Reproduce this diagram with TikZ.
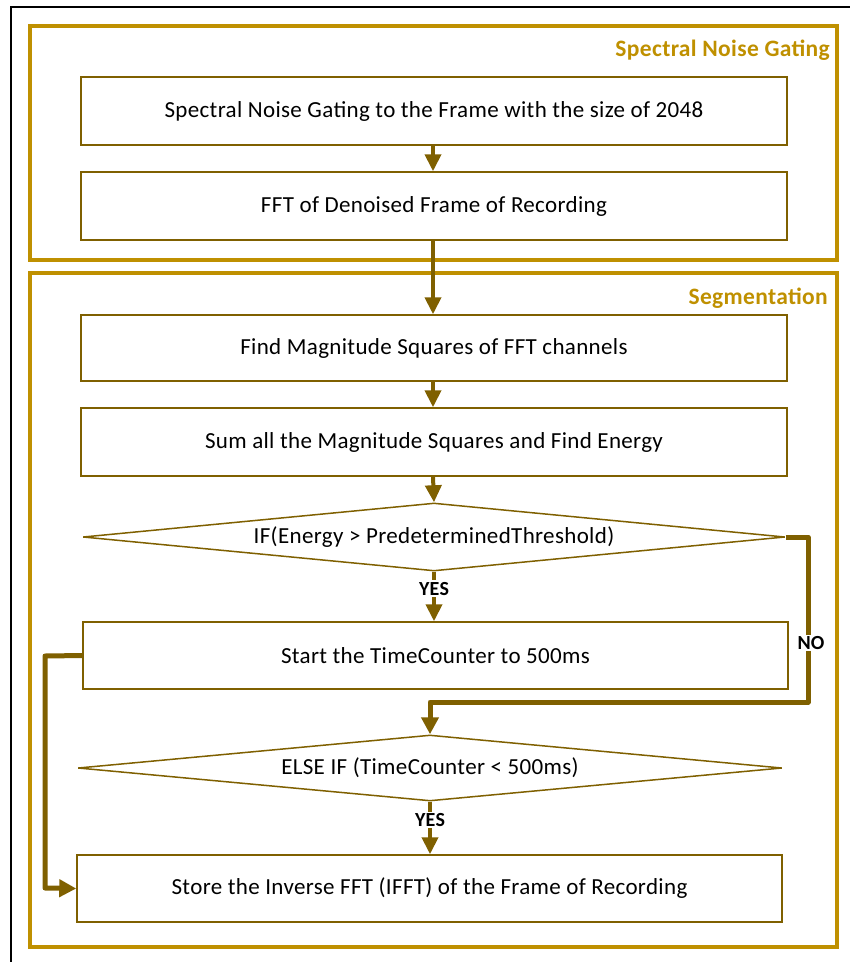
\documentclass[tikz,border=0pt]{standalone}
\usepackage{fontspec}
\setmainfont{Carlito}[LetterSpace=1.5]
\usetikzlibrary{shapes.geometric,arrows.meta}
\definecolor{gold}{HTML}{BF9000}
\definecolor{darkgold}{HTML}{7F6000}
\tikzset{
  frame/.style={draw=gold,line width=4.5pt},
  stepbox/.style={draw=darkgold,line width=1.5pt,fill=white,minimum width=706pt,minimum height=68pt,inner sep=0pt,font=\fontsize{23}{27}\selectfont},
  decide/.style={diamond,aspect=10,draw=darkgold,line width=1.5pt,fill=white,minimum width=704pt,minimum height=67pt,inner sep=0pt,font=\fontsize{23}{27}\selectfont},
  flow/.style={draw=darkgold,line width=4pt,-{Triangle[width=16pt,length=17pt]}},
  heavyflow/.style={draw=darkgold,line width=5pt,line join=round,-{Triangle[width=17pt,length=17pt]}},
  title/.style={text=gold,font=\bfseries\fontsize{23.5}{27}\selectfont,anchor=east,inner sep=0pt},
  answer/.style={fill=white,font=\bfseries\fontsize{20}{23}\selectfont,inner sep=1.5pt}
}
\begin{document}
\begin{tikzpicture}[x=1pt,y=-1pt]
\useasboundingbox (0,0) rectangle (850,962);
\begin{scope}
\clip (0,0) rectangle (850,962);
\draw[black,line width=1.8pt] (11,7) rectangle (870,990);

% section frames
\draw[frame] (30,26) rectangle (837,260);
\draw[frame] (30,273) rectangle (837,947);
\node[title] (t1) at (830,50) {Spectral Noise Gating};
\node[title] (t2) at (828,298) {Segmentation};

% processing steps
\node[stepbox] (b1) at (434,111) {Spectral Noise Gating to the Frame with the size of 2048};
\node[stepbox] (b2) at (434,206) {FFT of Denoised Frame of Recording};
\node[stepbox,minimum height=66pt] (b3) at (434,348) {Find Magnitude Squares of FFT channels};
\node[stepbox] (b4) at (434,442) {Sum all the Magnitude Squares and Find Energy};
\node[decide,minimum width=702pt,minimum height=68pt] (d1) at (434,537) {IF(Energy > PredeterminedThreshold)};
\node[stepbox,minimum width=705pt,minimum height=67pt] (b5) at (435.5,655.5) {Start the TimeCounter to 500ms};
\node[decide,minimum height=66pt] (d2) at (430,768) {ELSE IF (TimeCounter < 500ms)};
\node[stepbox,minimum width=705pt,minimum height=67pt] (b6) at (429.5,888.5) {Store the Inverse FFT (IFFT) of the Frame of Recording};

% connectors
\draw[flow] (b1.south -| 433,0) -- (b2.north -| 433,0);
\draw[flow] (b2.south -| 433,0) -- (b3.north -| 433,0);
\draw[flow] (b3.south -| 433,0) -- (b4.north -| 433,0);
\draw[flow] (b4.south -| 433,0) -- (d1.north);
\draw[flow] (d1.south) -- node[answer,pos=0.34] (yes1) {YES} (d1.south |- b5.north);
\coordinate (noA) at (808,537);
\coordinate (noB) at (808,702);
\coordinate (noC) at (430,702);
\draw[heavyflow] (d1.east) -- (noA) -- (noB) -- (noC) -- (d2.north);
\node[answer] (no) at (811,643) {NO};
\draw[flow] (d2.south) -- node[answer,pos=0.35] (yes2) {YES} (d2.south |- b6.north);
\coordinate (loopA) at (45,656);
\coordinate (loopB) at (45,888);
\draw[heavyflow] (b5.west) -- (loopA) -- (loopB) -- (b6.west);
\end{scope}
\end{tikzpicture}
\end{document}
